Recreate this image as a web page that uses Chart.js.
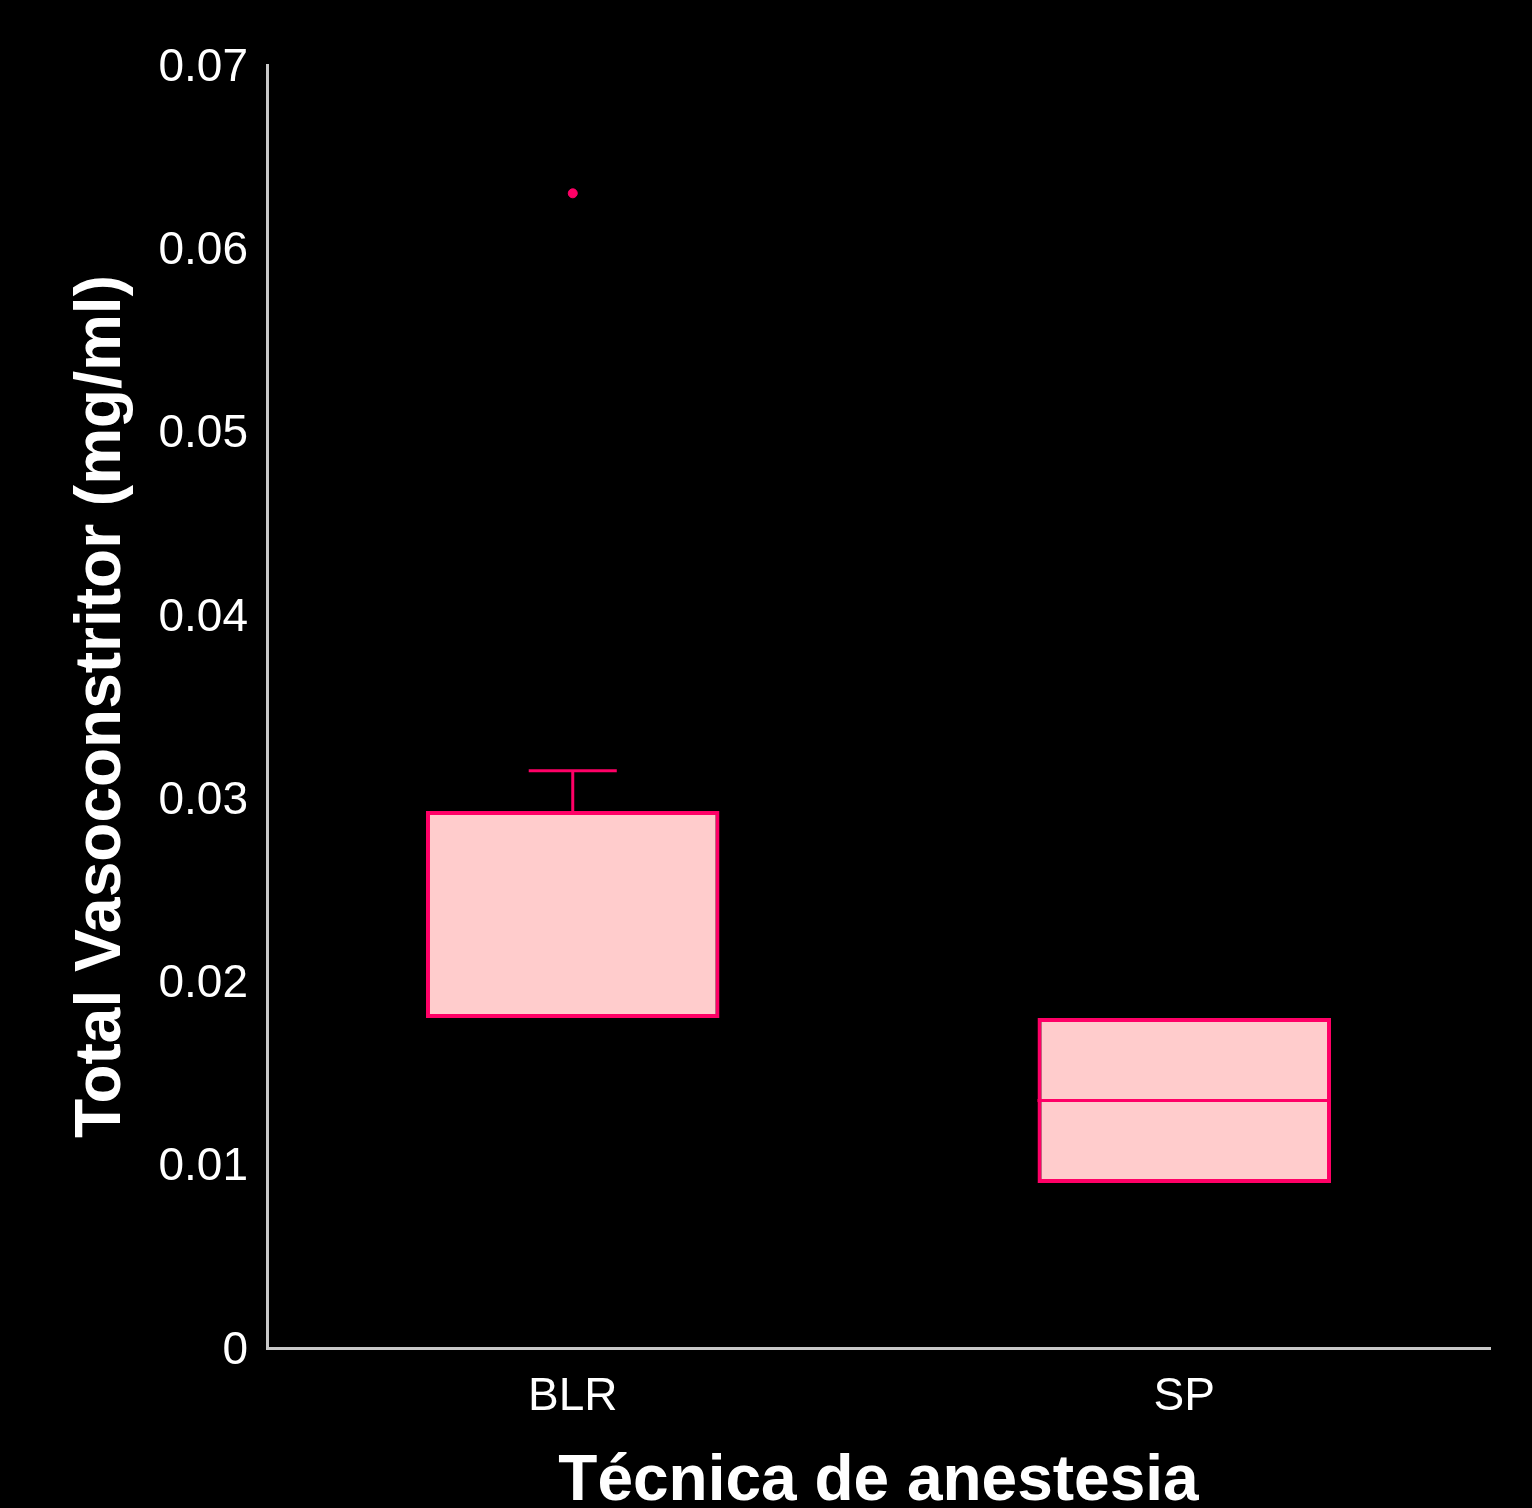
<!DOCTYPE html>
<html>
<head>
<meta charset="utf-8">
<script src="https://cdn.jsdelivr.net/npm/chart.js@4"></script>
<style>
  html, body { margin: 0; padding: 0; background: #000000; }
  #wrap { width: 1532px; height: 1508px; }
</style>
</head>
<body>
<div id="wrap"><canvas id="box-chart"></canvas></div>
<script>
// box plot values
const categories = ['BLR', 'SP'];
const q1 = [0.018, 0.009];
const q3 = [0.0293, 0.018];
const medians = [0.018, 0.0135];
const whiskerLow = [0.018, 0.009];
const whiskerHigh = [0.0315, 0.018];
const outliers = [[0.063], []];
const yTicks = [0, 0.01, 0.02, 0.03, 0.04, 0.05, 0.06, 0.07];

const BOX_LINE = '#ff0066';
const BOX_FILL = '#ffcccc';
const AXIS = '#c8c8c8';
const FONT = "'Liberation Sans', Arial, sans-serif";

// medians and whiskers drawn on top of the floating bars
const boxExtras = {
    id: 'boxExtras',
    afterDatasetsDraw(chart) {
        const ctx = chart.ctx;
        const y = chart.scales.y;
        const meta = chart.getDatasetMeta(0);
        ctx.save();
        ctx.strokeStyle = BOX_LINE;
        ctx.lineWidth = 3;
        meta.data.forEach((bar, i) => {
            const half = bar.width / 2;
            const cap = bar.width * 0.15;
            const draw = (x1, y1, x2, y2) => {
                ctx.beginPath();
                ctx.moveTo(x1, y1);
                ctx.lineTo(x2, y2);
                ctx.stroke();
            };
            if (medians[i] > q1[i] && medians[i] < q3[i]) {
                const my = y.getPixelForValue(medians[i]);
                draw(bar.x - half, my, bar.x + half, my);
            }
            if (whiskerHigh[i] > q3[i]) {
                const top = y.getPixelForValue(whiskerHigh[i]);
                draw(bar.x, y.getPixelForValue(q3[i]), bar.x, top);
                draw(bar.x - cap, top, bar.x + cap, top);
            }
            if (whiskerLow[i] < q1[i]) {
                const bot = y.getPixelForValue(whiskerLow[i]);
                draw(bar.x, y.getPixelForValue(q1[i]), bar.x, bot);
                draw(bar.x - cap, bot, bar.x + cap, bot);
            }
        });
        ctx.restore();
    }
};

const outlierPoints = [];
categories.forEach((c, i) => {
    outliers[i].forEach(v => outlierPoints.push({ x: c, y: v }));
});

new Chart(document.getElementById('box-chart'), {
    type: 'bar',
    data: {
        labels: categories,
        datasets: [{
            data: categories.map((c, i) => [q1[i], q3[i]]),
            backgroundColor: BOX_FILL,
            borderColor: BOX_LINE,
            borderWidth: 4,
            borderSkipped: false,
            barPercentage: 0.48,
            categoryPercentage: 1
        }, {
            type: 'line',
            data: outlierPoints,
            showLine: false,
            pointRadius: 4.5,
            pointBackgroundColor: BOX_LINE,
            pointBorderColor: BOX_LINE,
            pointBorderWidth: 1
        }]
    },
    options: {
        responsive: true,
        maintainAspectRatio: false,
        animation: false,
        layout: {
            padding: { left: 0, right: 42, top: 65, bottom: 0 }
        },
        plugins: {
            legend: { display: false },
            tooltip: { enabled: false }
        },
        scales: {
            x: {
                grid: { display: false, drawTicks: false },
                border: { color: AXIS, width: 3 },
                ticks: {
                    color: '#ffffff',
                    padding: 22,
                    font: { size: 46, family: FONT }
                },
                title: {
                    display: true,
                    text: 'Técnica de anestesia',
                    color: '#ffffff',
                    padding: 0,
                    font: { size: 64, weight: 'bold', family: FONT, lineHeight: 0.8 }
                },
                afterFit(scale) {
                    scale.height = 160;
                }
            },
            y: {
                min: 0,
                max: 0.07,
                grid: { display: false, drawTicks: false },
                border: { color: AXIS, width: 3 },
                afterBuildTicks(scale) {
                    scale.ticks = yTicks.map(v => ({ value: v }));
                },
                ticks: {
                    color: '#ffffff',
                    padding: 19,
                    labelOffset: 3,
                    font: { size: 46, family: FONT },
                    callback: function(value) {
                        return value === 0 ? '0' : value.toFixed(2);
                    }
                },
                title: {
                    display: true,
                    text: 'Total Vasoconstritor (mg/ml)',
                    color: '#ffffff',
                    padding: { top: 64, bottom: 0 },
                    font: { size: 64, weight: 'bold', family: FONT }
                },
                afterFit(scale) {
                    scale.width = 267;
                }
            }
        }
    },
    plugins: [boxExtras]
});
</script>
</body>
</html>
